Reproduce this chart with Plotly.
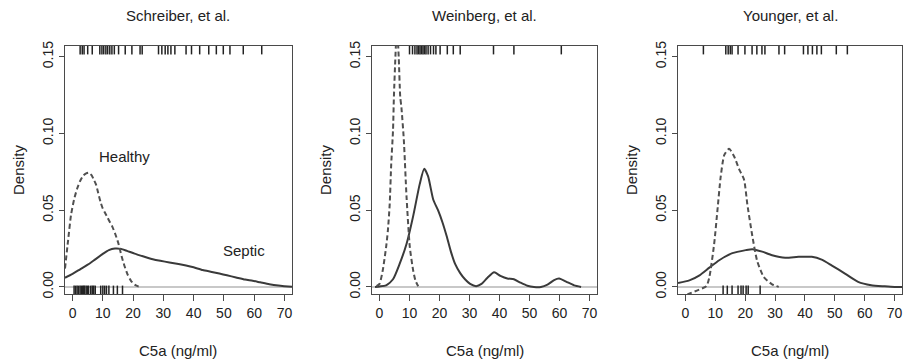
import plotly.graph_objects as go

# ---------------- data ----------------
titles = ["Schreiber, et al.", "Weinberg, et al.", "Younger, et al."]
x_label = "C5a (ng/ml)"
y_label = "Density"
x_ticks = [0, 10, 20, 30, 40, 50, 60, 70]
y_ticks = [0.00, 0.05, 0.10, 0.15]
y_tick_text = ["0.00", "0.05", "0.10", "0.15"]

# Schreiber
schreiber_healthy_x = [-2.5, -1.5, -0.5, 0.5, 1.5, 2.5, 3.5, 4.5, 5.3, 6.2, 7.0, 7.7, 8.5, 9.3, 10.0,
                       10.8, 11.6, 12.4, 13.2, 14.2, 15.2, 16.2, 17.1, 18.2, 19.3, 20.5, 21.5, 22.5]
schreiber_healthy_y = [0.012, 0.030, 0.047, 0.057, 0.064, 0.069, 0.0725, 0.074, 0.0745, 0.073, 0.070,
                       0.067, 0.061, 0.055, 0.051, 0.048, 0.045, 0.042, 0.039, 0.034, 0.028, 0.020,
                       0.014, 0.008, 0.004, 0.0015, 0.0005, 0.0]
schreiber_septic_x = [-2.5, 0, 2.5, 5, 7.5, 10, 12, 14, 16, 18, 20.5, 23.5, 26.5, 29, 32, 35,
                      37.5, 40, 43, 46, 48.5, 51, 54, 57, 59.5, 62, 65, 68, 70, 72.5]
schreiber_septic_y = [0.006, 0.0085, 0.0115, 0.0145, 0.018, 0.0215, 0.024, 0.025, 0.0248, 0.0235,
                      0.0217, 0.0198, 0.018, 0.017, 0.016, 0.015, 0.014, 0.0128, 0.011, 0.0098,
                      0.0087, 0.0076, 0.0062, 0.0048, 0.004, 0.003, 0.0018, 0.0009, 0.0005, 0.0001]
schreiber_septic_rug = [2.5, 3.2, 3.8, 5, 6.5, 9, 9.7, 10.3, 11, 11.6, 12.3, 13, 13.8, 15.2, 17.4,
                        19.6, 22.3, 23, 28.4, 29.5, 30.6, 31.5, 32.5, 33.8, 37.5, 39.3, 42, 45, 47.5,
                        49.8, 52, 56.4, 62.5]
schreiber_healthy_rug = [0.5, 1, 1.5, 2, 2.5, 3, 3.3, 3.7, 4, 4.5, 5, 5.3, 6, 6.5, 7, 7.5, 9.3, 10,
                         10.6, 11.2, 12, 13.5, 14.8, 16.5]

# Weinberg
weinberg_healthy_x = [-1.0, 0.0, 1.1, 2.2, 2.8, 3.4, 3.9, 4.5, 4.8, 5.3, 5.8, 6.4, 6.9, 7.3, 8.1,
                      9.0, 10.1, 11.2, 12.0, 12.9]
weinberg_healthy_y = [0.0005, 0.002, 0.011, 0.026, 0.037, 0.054, 0.080, 0.102, 0.124, 0.150, 0.170,
                      0.150, 0.124, 0.117, 0.096, 0.059, 0.026, 0.011, 0.004, 0.0005]
weinberg_septic_x = [-1.5, 0, 2.2, 4.5, 6.7, 9, 11.2, 13.4, 14.9, 16.2, 17.9, 19.5, 21, 22.4, 23.8,
                     25.2, 26.9, 28.5, 30.2, 32.2, 34, 36, 38.2, 40.3, 42.6, 44.8, 47, 49.3, 51.5,
                     53.8, 56, 58.2, 59.9, 62.2, 64.9, 67.2]
weinberg_septic_y = [0.0, 0.0003, 0.001, 0.005, 0.015, 0.028, 0.046, 0.067, 0.077, 0.072, 0.057,
                     0.050, 0.042, 0.033, 0.023, 0.015, 0.009, 0.005, 0.002, 0.0005, 0.002, 0.006,
                     0.0095, 0.0072, 0.0055, 0.005, 0.0028, 0.0008, 0.0, 0.0, 0.0015, 0.0045,
                     0.0055, 0.0035, 0.001, 0.0]
weinberg_septic_rug = [10, 11, 11.8, 12.5, 13, 13.5, 14, 14.5, 15, 15.5, 16.2, 17, 18, 18.8, 20.2,
                       22.6, 24.6, 26.9, 38, 44.8, 60.6]
weinberg_healthy_rug = []

# Younger
younger_healthy_x = [-2.0, 1.0, 4.0, 7.0, 8.0, 9.6, 10.7, 11.8, 13.0, 14.6, 16.3, 17.9, 19.6, 20.7,
                     22.4, 24.0, 26.2, 29.0, 31.2]
younger_healthy_y = [-0.0065, -0.0045, -0.0022, 0.0005, 0.0065, 0.028, 0.050, 0.072, 0.086, 0.090,
                     0.085, 0.077, 0.070, 0.054, 0.033, 0.017, 0.0065, 0.0017, 0.0]
younger_septic_x = [-2.5, 1.3, 4.7, 8, 11.3, 15.7, 20.2, 22.4, 25.7, 29, 33.4, 37.9, 42.3, 45.6, 48.9,
                    53.4, 57.8, 62.2, 66.7, 70, 72.5]
younger_septic_y = [0.0026, 0.0043, 0.0076, 0.0126, 0.0174, 0.022, 0.024, 0.0246, 0.023, 0.0207,
                    0.019, 0.0196, 0.0196, 0.0178, 0.0141, 0.0087, 0.0033, 0.0011, 0.0004, 0.0, 0.0]
younger_septic_rug = [6, 13.5, 14.3, 15, 15.6, 17.6, 19.9, 22.3, 23.9, 25.6, 26.6, 31.3, 33.2, 39.5,
                      41, 42.5, 44, 45.5, 50.5, 54.2]
younger_healthy_rug = [12.6, 14, 15.6, 17.6, 18.6, 19.3, 20.3, 21, 25]

label_healthy = "Healthy"
label_septic = "Septic"
label_healthy_pos = (17.3, 0.085)
label_septic_pos = (56.7, 0.024)

panels = [
    (schreiber_healthy_x, schreiber_healthy_y, schreiber_septic_x, schreiber_septic_y,
     schreiber_septic_rug, schreiber_healthy_rug),
    (weinberg_healthy_x, weinberg_healthy_y, weinberg_septic_x, weinberg_septic_y,
     weinberg_septic_rug, weinberg_healthy_rug),
    (younger_healthy_x, younger_healthy_y, younger_septic_x, younger_septic_y,
     younger_septic_rug, younger_healthy_rug),
]

# ---------------- style ----------------
X_RANGE = [-2.5, 72.5]
Y_RANGE = [-0.0046, 0.157]
PLOT_H = 248  # px height of each plot area
RUG_LEN = 7
rug_dy = (Y_RANGE[1] - Y_RANGE[0]) * RUG_LEN / 2 / PLOT_H
rug_top_y = Y_RANGE[1] - rug_dy
rug_bot_y = Y_RANGE[0] + rug_dy

FONT = "Liberation Sans, Arial, sans-serif"
LINE_C = "#3a3a3a"
AXIS_C = "#4a4a4a"
domains = [[0.0, 0.2712], [0.3668, 0.6356], [0.7324, 1.0]]

fig = go.Figure()
for i, (hx, hy, sx, sy, srug, hrug) in enumerate(panels):
    xa = "x" if i == 0 else f"x{i+1}"
    ya = "y" if i == 0 else f"y{i+1}"
    fig.add_trace(go.Scatter(x=sx, y=sy, mode="lines", xaxis=xa, yaxis=ya,
                             line=dict(color=LINE_C, width=2, shape="spline", smoothing=0.6),
                             showlegend=False, hoverinfo="skip"))
    fig.add_trace(go.Scatter(x=hx, y=hy, mode="lines", xaxis=xa, yaxis=ya,
                             line=dict(color="#505050", width=2, dash="5px,3px",
                                       shape="spline", smoothing=0.6),
                             showlegend=False, hoverinfo="skip"))
    fig.add_trace(go.Scatter(x=srug, y=[rug_top_y] * len(srug), mode="markers", xaxis=xa, yaxis=ya,
                             marker=dict(symbol="line-ns", size=RUG_LEN,
                                         line=dict(color="#222", width=1.5)),
                             showlegend=False, hoverinfo="skip"))
    if hrug:
        fig.add_trace(go.Scatter(x=hrug, y=[rug_bot_y] * len(hrug), mode="markers", xaxis=xa,
                                 yaxis=ya,
                                 marker=dict(symbol="line-ns", size=RUG_LEN,
                                             line=dict(color="#222", width=1.5)),
                                 showlegend=False, hoverinfo="skip"))
    # zero line
    fig.add_shape(type="line", xref=f"{xa} domain", yref=ya, x0=0, x1=1, y0=0, y1=0,
                  line=dict(color="#c8c8c8", width=2), layer="below")
    axis_common = dict(showline=True, mirror=True, linecolor=AXIS_C, linewidth=1.2,
                       ticks="outside", tickcolor=AXIS_C, showgrid=False, automargin=False,
                       zeroline=False, tickfont=dict(family=FONT, size=14, color="#222"))
    fig.update_layout(**{
        ("xaxis" if i == 0 else f"xaxis{i+1}"): dict(
            domain=domains[i], range=X_RANGE, tickvals=x_ticks, anchor=ya, ticklen=6,
            **axis_common),
        ("yaxis" if i == 0 else f"yaxis{i+1}"): dict(
            domain=[0, 1], range=Y_RANGE, tickvals=y_ticks, ticktext=y_tick_text,
            tickangle=-90, ticklen=5, anchor=xa, **axis_common),
    })
    fig.add_annotation(text=titles[i], xref=f"{xa} domain", yref=f"{ya} domain", x=0.5, y=1,
                       yshift=31, showarrow=False, yanchor="middle",
                       font=dict(family=FONT, size=15, color="#222"))
    fig.add_annotation(text=x_label, xref=f"{xa} domain", yref=f"{ya} domain", x=0.5, y=0,
                       yshift=-56, showarrow=False, yanchor="middle",
                       font=dict(family=FONT, size=15, color="#222"))
    fig.add_annotation(text=y_label, xref=f"{xa} domain", yref=f"{ya} domain", x=0, y=0.5,
                       xshift=-47, showarrow=False, xanchor="center", textangle=-90,
                       font=dict(family=FONT, size=15, color="#222"))

fig.add_annotation(text=label_healthy, x=label_healthy_pos[0], y=label_healthy_pos[1], xref="x",
                   yref="y", showarrow=False, font=dict(family=FONT, size=15, color="#222"))
fig.add_annotation(text=label_septic, x=label_septic_pos[0], y=label_septic_pos[1], xref="x",
                   yref="y", showarrow=False, font=dict(family=FONT, size=15, color="#222"))

fig.update_layout(width=905, height=362, margin=dict(l=65, r=3, t=46, b=68, autoexpand=False),
                  paper_bgcolor="white", plot_bgcolor="white",
                  font=dict(family=FONT, color="#222"))
fig.write_html("out.html", config={"displayModeBar": False},
               post_script="document.body.style.margin='0';document.body.style.overflow='hidden';")
